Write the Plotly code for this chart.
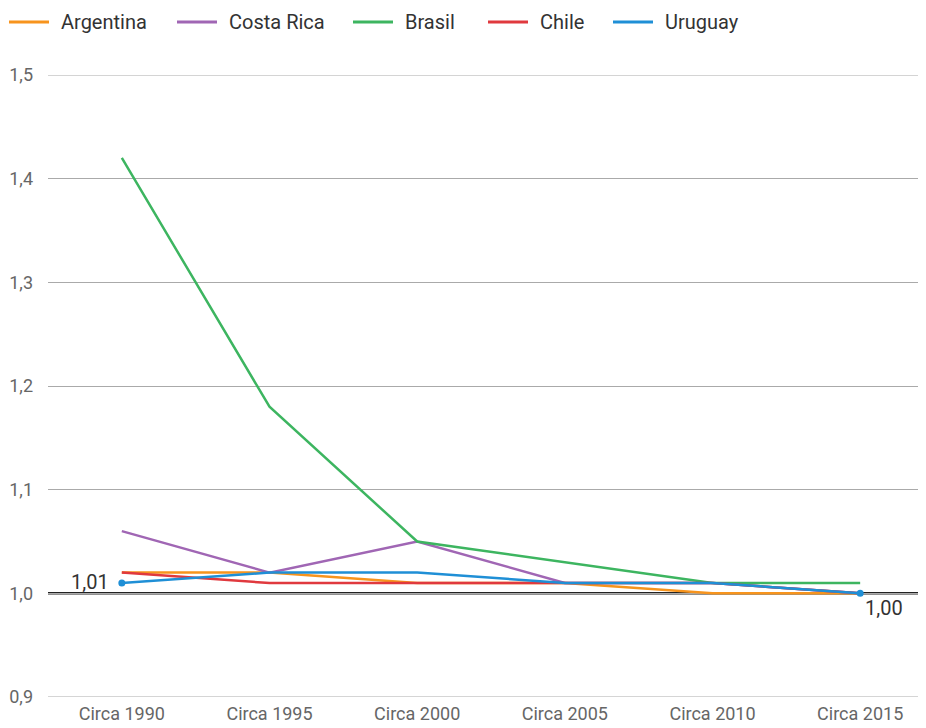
import plotly.graph_objects as go

categories = ["Circa 1990", "Circa 1995", "Circa 2000", "Circa 2005", "Circa 2010", "Circa 2015"]
argentina = [1.02, 1.02, 1.01, 1.01, 1.00, 1.00]
costa_rica = [1.06, 1.02, 1.05, 1.01, 1.01, 1.00]
brasil = [1.42, 1.18, 1.05, 1.03, 1.01, 1.01]
chile = [1.02, 1.01, 1.01, 1.01, 1.01, 1.00]
uruguay = [1.01, 1.02, 1.02, 1.01, 1.01, 1.00]
y_ticks = [0.9, 1.0, 1.1, 1.2, 1.3, 1.4, 1.5]

series = [
    ("Argentina", argentina, "#F7941D"),
    ("Costa Rica", costa_rica, "#A066B4"),
    ("Brasil", brasil, "#3DB560"),
    ("Chile", chile, "#E0393E"),
    ("Uruguay", uruguay, "#1F8FD6"),
]

FONT = "Roboto, sans-serif"
W, H = 926, 728
ML, MR, MT, MB = 40, 0, 67, 39
PW, PH = W - ML - MR, H - MT - MB

def px_to_paper_x(px):
    return (px - ML) / PW

def px_to_paper_y(py):
    return 1 - (py - MT) / PH

fig = go.Figure()
for name, vals, color in series:
    fig.add_trace(go.Scatter(
        x=categories, y=vals, name=name, mode="lines",
        line=dict(color=color, width=2.5), showlegend=False,
    ))

fig.add_trace(go.Scatter(
    x=[categories[0], categories[-1]], y=[uruguay[0], uruguay[-1]],
    mode="markers", marker=dict(color="#1F8FD6", size=7),
    showlegend=False, hoverinfo="skip",
))

# gridlines at range ends (plotly omits edge gridlines)
for yv in (y_ticks[0], y_ticks[-1]):
    fig.add_shape(type="line", xref="paper", yref="y", x0=0, x1=1, y0=yv, y1=yv,
                  line=dict(color="#AAAAAA", width=1), layer="below")

fig.add_shape(type="line", xref="paper", yref="y", x0=0, x1=1, y0=1.0, y1=1.0,
              line=dict(color="#222222", width=2.5), layer="between")

fig.add_annotation(x=categories[0], y=uruguay[0], text="1,01", showarrow=False,
                   xanchor="right", yanchor="middle", xshift=-11, yshift=1,
                   font=dict(size=20, color="#333333", family=FONT))
fig.add_annotation(x=categories[-1], y=uruguay[-1], text="1,00", showarrow=False,
                   xanchor="center", yanchor="middle", xshift=24, yshift=-15,
                   font=dict(size=20, color="#333333", family=FONT))

# legend drawn manually (40px line + label)
legend_starts = [1, 169, 345, 480, 605]
legend_y = px_to_paper_y(14)
for (name, _, color), sx in zip(series, legend_starts):
    fig.add_shape(type="line", xref="paper", yref="paper",
                  x0=px_to_paper_x(sx), x1=px_to_paper_x(sx + 40),
                  y0=legend_y, y1=legend_y, line=dict(color=color, width=3))
    fig.add_annotation(xref="paper", yref="paper", x=px_to_paper_x(sx + 50), y=legend_y,
                       text=name, showarrow=False, xanchor="left", yanchor="middle",
                       font=dict(size=20, color="#333333", family=FONT))

fig.update_layout(
    width=W, height=H,
    margin=dict(l=ML, r=MR, t=MT, b=MB, autoexpand=False),
    paper_bgcolor="white", plot_bgcolor="white",
    separators=", ",
    font=dict(family=FONT, color="#666666", size=18),
    showlegend=False,
    xaxis=dict(type="category", range=[-0.5, 5.5], showgrid=False, showline=False,
               zeroline=False, ticks="", ticklabelstandoff=4,
               tickfont=dict(size=18, color="#666666")),
    yaxis=dict(range=[0.9, 1.5], tickvals=y_ticks, tickformat=".1f",
               showgrid=True, gridcolor="#AAAAAA", gridwidth=1, zeroline=False,
               showline=False, ticks="", ticklabelstandoff=14,
               tickfont=dict(size=18, color="#666666")),
)

fig.write_html("out.html")
